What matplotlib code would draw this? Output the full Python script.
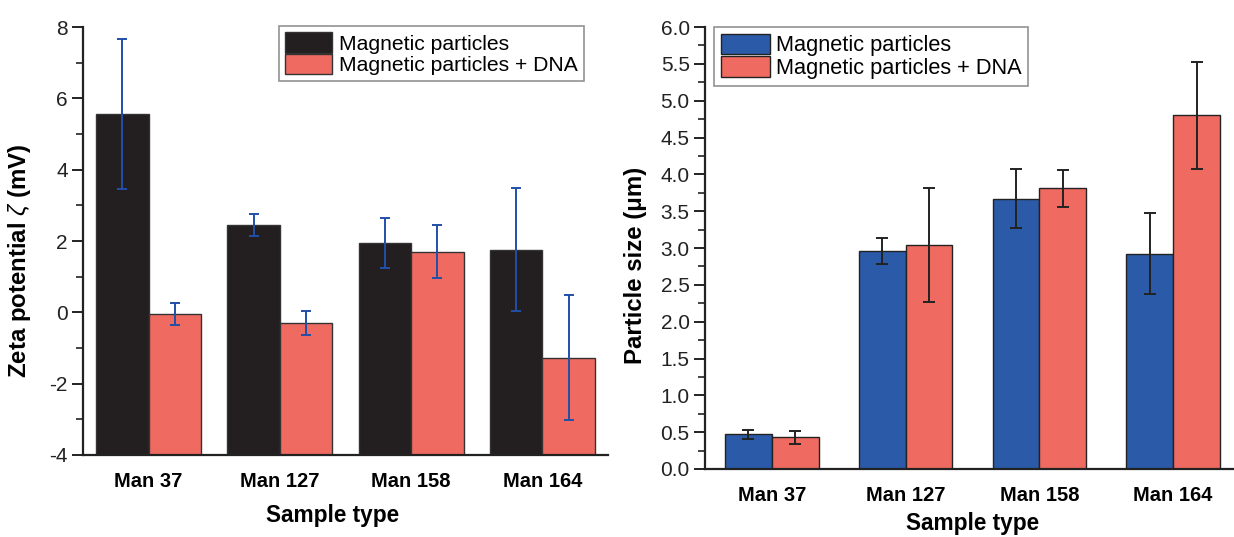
import numpy as np
import matplotlib
matplotlib.use("Agg")
import matplotlib.pyplot as plt
from matplotlib.ticker import MultipleLocator, FormatStrFormatter

plt.rcParams['font.family'] = ['Liberation Sans', 'DejaVu Sans']
plt.rcParams['axes.unicode_minus'] = False
plt.rcParams['mathtext.fontset'] = 'custom'
plt.rcParams['mathtext.it'] = 'Liberation Sans:italic'
plt.rcParams['mathtext.rm'] = 'Liberation Sans'

# data
samples = ["Man 37", "Man 127", "Man 158", "Man 164"]
series_labels = ["Magnetic particles", "Magnetic particles + DNA"]

zeta_mp = [5.55, 2.45, 1.94, 1.76]
zeta_mp_err = [2.10, 0.30, 0.70, 1.73]
zeta_dna = [-0.05, -0.30, 1.70, -1.27]
zeta_dna_err = [0.31, 0.34, 0.74, 1.75]

size_mp = [0.47, 2.96, 3.67, 2.92]
size_mp_err = [0.065, 0.18, 0.40, 0.55]
size_dna = [0.43, 3.04, 3.81, 4.80]
size_dna_err = [0.09, 0.77, 0.25, 0.73]

black = "#231f20"
red = "#ef6b61"
blue = "#2b5ba8"
err_blue = "#2150a8"

W, H = 1234, 537
fig = plt.figure(figsize=(W / 100, H / 100), dpi=100)

ax1 = fig.add_axes([83 / W, 1 - 455 / H, (608 - 83) / W, (455 - 27) / H])
ax2 = fig.add_axes([705 / W, 1 - 469 / H, (1240 - 705) / W, (469 - 27) / H])

x = np.arange(len(samples))

TICK_FS = 15
XTICK_FS = 14.5
XLABEL_FS = 16.3
YLABEL_FS = 17.3


def style_axis(ax):
    for s in ["top", "right"]:
        ax.spines[s].set_visible(False)
    for s in ["left", "bottom"]:
        ax.spines[s].set_linewidth(1.6)
        ax.spines[s].set_color("#222222")
    ax.tick_params(axis="y", which="major", direction="out", length=8, width=1.4,
                   labelsize=TICK_FS, colors="#222222", pad=3)
    ax.tick_params(axis="y", which="minor", direction="out", length=5, width=1.2,
                   colors="#222222")
    ax.tick_params(axis="x", length=0, labelsize=XTICK_FS, pad=12)
    for lab in ax.get_xticklabels():
        lab.set_fontweight("bold")


def add_legend(ax, anchor, loc, fs):
    leg = ax.legend(loc=loc, bbox_to_anchor=anchor, bbox_transform=fig.transFigure,
                    fontsize=fs, frameon=True, fancybox=False, edgecolor="#777777",
                    handlelength=2.25, handleheight=1.1, handletextpad=0.3,
                    labelspacing=0.0, borderpad=0.3, borderaxespad=0)
    leg.get_frame().set_linewidth(1.2)
    return leg


# left: zeta potential, bars drawn up from the bottom of the axis (-4)
ybase = -4
bw = 0.4
ax1.bar(x - bw / 2, np.array(zeta_mp) - ybase, bw, bottom=ybase, color=black,
        edgecolor="#333333", linewidth=1.0, label=series_labels[0], zorder=2)
ax1.bar(x + bw / 2, np.array(zeta_dna) - ybase, bw, bottom=ybase, color=red,
        edgecolor="#333333", linewidth=1.0, label=series_labels[1], zorder=2)
ax1.errorbar(x - bw / 2, zeta_mp, yerr=zeta_mp_err, fmt="none", ecolor=err_blue,
             elinewidth=1.4, capsize=3.3, capthick=1.4, zorder=3)
ax1.errorbar(x + bw / 2, zeta_dna, yerr=zeta_dna_err, fmt="none", ecolor=err_blue,
             elinewidth=1.4, capsize=3.3, capthick=1.4, zorder=3)
ax1.set_xlim(-0.5, 3.5)
ax1.set_ylim(-4, 8)
ax1.yaxis.set_major_locator(MultipleLocator(2))
ax1.yaxis.set_minor_locator(MultipleLocator(1))
ax1.set_xticks(x)
ax1.set_xticklabels(samples)
style_axis(ax1)
ax1.set_xlabel("Sample type", fontsize=XLABEL_FS, fontweight="bold", labelpad=10)
ax1.xaxis.set_label_coords(0.475, -0.115)
ax1.set_ylabel(r"Zeta potential $\zeta$ (mV)", fontsize=YLABEL_FS, fontweight="bold")
ax1.yaxis.set_label_coords(-0.096, 0.455)
add_legend(ax1, (584 / W, 1 - 26 / H), "upper right", 15.2)

# right: particle size
bw2 = 0.35
ax2.bar(x - bw2 / 2, size_mp, bw2, color=blue, edgecolor="#222222", linewidth=1.0,
        label=series_labels[0], zorder=2)
ax2.bar(x + bw2 / 2, size_dna, bw2, color=red, edgecolor="#222222", linewidth=1.0,
        label=series_labels[1], zorder=2)
ax2.errorbar(x - bw2 / 2, size_mp, yerr=size_mp_err, fmt="none", ecolor="#222222",
             elinewidth=1.4, capsize=4, capthick=1.4, zorder=3)
ax2.errorbar(x + bw2 / 2, size_dna, yerr=size_dna_err, fmt="none", ecolor="#222222",
             elinewidth=1.4, capsize=4, capthick=1.4, zorder=3)
ax2.set_xlim(-0.5, 3.5)
ax2.set_ylim(0, 6)
ax2.yaxis.set_major_locator(MultipleLocator(0.5))
ax2.yaxis.set_minor_locator(MultipleLocator(0.25))
ax2.yaxis.set_major_formatter(FormatStrFormatter("%.1f"))
ax2.set_xticks(x)
ax2.set_xticklabels(samples)
style_axis(ax2)
ax2.set_xlabel("Sample type", fontsize=XLABEL_FS, fontweight="bold", labelpad=5)
ax2.set_ylabel("Particle size (μm)", fontsize=YLABEL_FS, fontweight="bold")
ax2.yaxis.set_label_coords(-0.108, 0.46)
add_legend(ax2, (714 / W, 1 - 27 / H), "upper left", 15.7)

fig.savefig("out.png", dpi=100)
